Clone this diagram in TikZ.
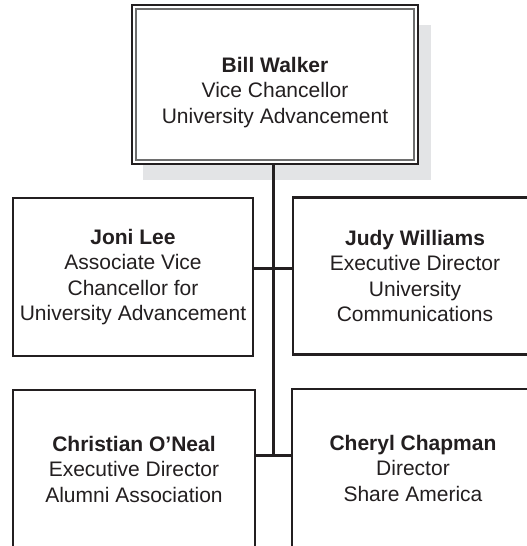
\documentclass[tikz,border=0pt]{standalone}
\usepackage{fontspec}
\setmainfont{Liberation Sans}
\definecolor{ink}{RGB}{35,31,32}
\definecolor{shadowgray}{RGB}{227,228,230}
\definecolor{innerline}{RGB}{110,110,110}
\begin{document}
\begin{tikzpicture}[x=1pt,y=-1pt,
  orgbox/.style={draw=ink, line width=2.8pt, fill=white, text=ink, inner sep=0pt,
    align=center, font=\fontsize{21}{25.5}\selectfont},
  orgtext/.style={text=ink, inner sep=0pt, align=center, font=\fontsize{21}{25.5}\selectfont},
  link/.style={draw=ink, line width=3pt}]
\useasboundingbox (0,0) rectangle (527,546);
% shadow of the top box
\fill[shadowgray] (143,25) rectangle (431,180);
% top box
\node[orgbox, line width=1.6pt, minimum width=286pt, minimum height=159pt] (top) at (275,84.5) {};
\draw[innerline, line width=2pt] ([shift={(4.5pt,-4.5pt)}]top.north west) rectangle ([shift={(-4.5pt,4.5pt)}]top.south east);
\node[orgtext] (toptext) at ([yshift=-8pt]top.center)
  {\textbf{Bill Walker}\\Vice Chancellor\\University Advancement};
% middle row
\node[orgbox, minimum width=240pt, minimum height=158pt] (joni) at (133,277)
  {\textbf{Joni Lee}\\Associate Vice\\Chancellor for\\University Advancement};
\node[orgbox, minimum width=244pt, minimum height=157pt] (judy) at (415,276)
  {\textbf{Judy Williams}\\Executive Director\\University\\Communications};
% bottom row
\node[orgbox, minimum width=242pt, minimum height=158pt] (chris) at (134,469)
  {\textbf{Christian O’Neal}\\Executive Director\\Alumni Association};
\node[orgbox, minimum width=242pt, minimum height=158pt] (cheryl) at (413,468)
  {\textbf{Cheryl Chapman}\\Director\\Share America};
% connectors
\coordinate (mid) at (273.5,268);
\coordinate (bot) at (273.5,455);
\draw[link] (top.south -| mid) -- (bot);
\draw[link] (mid -| joni.east) -- (mid -| judy.west);
\draw[link] (bot -| chris.east) -- (bot -| cheryl.west);
\end{tikzpicture}
\end{document}
